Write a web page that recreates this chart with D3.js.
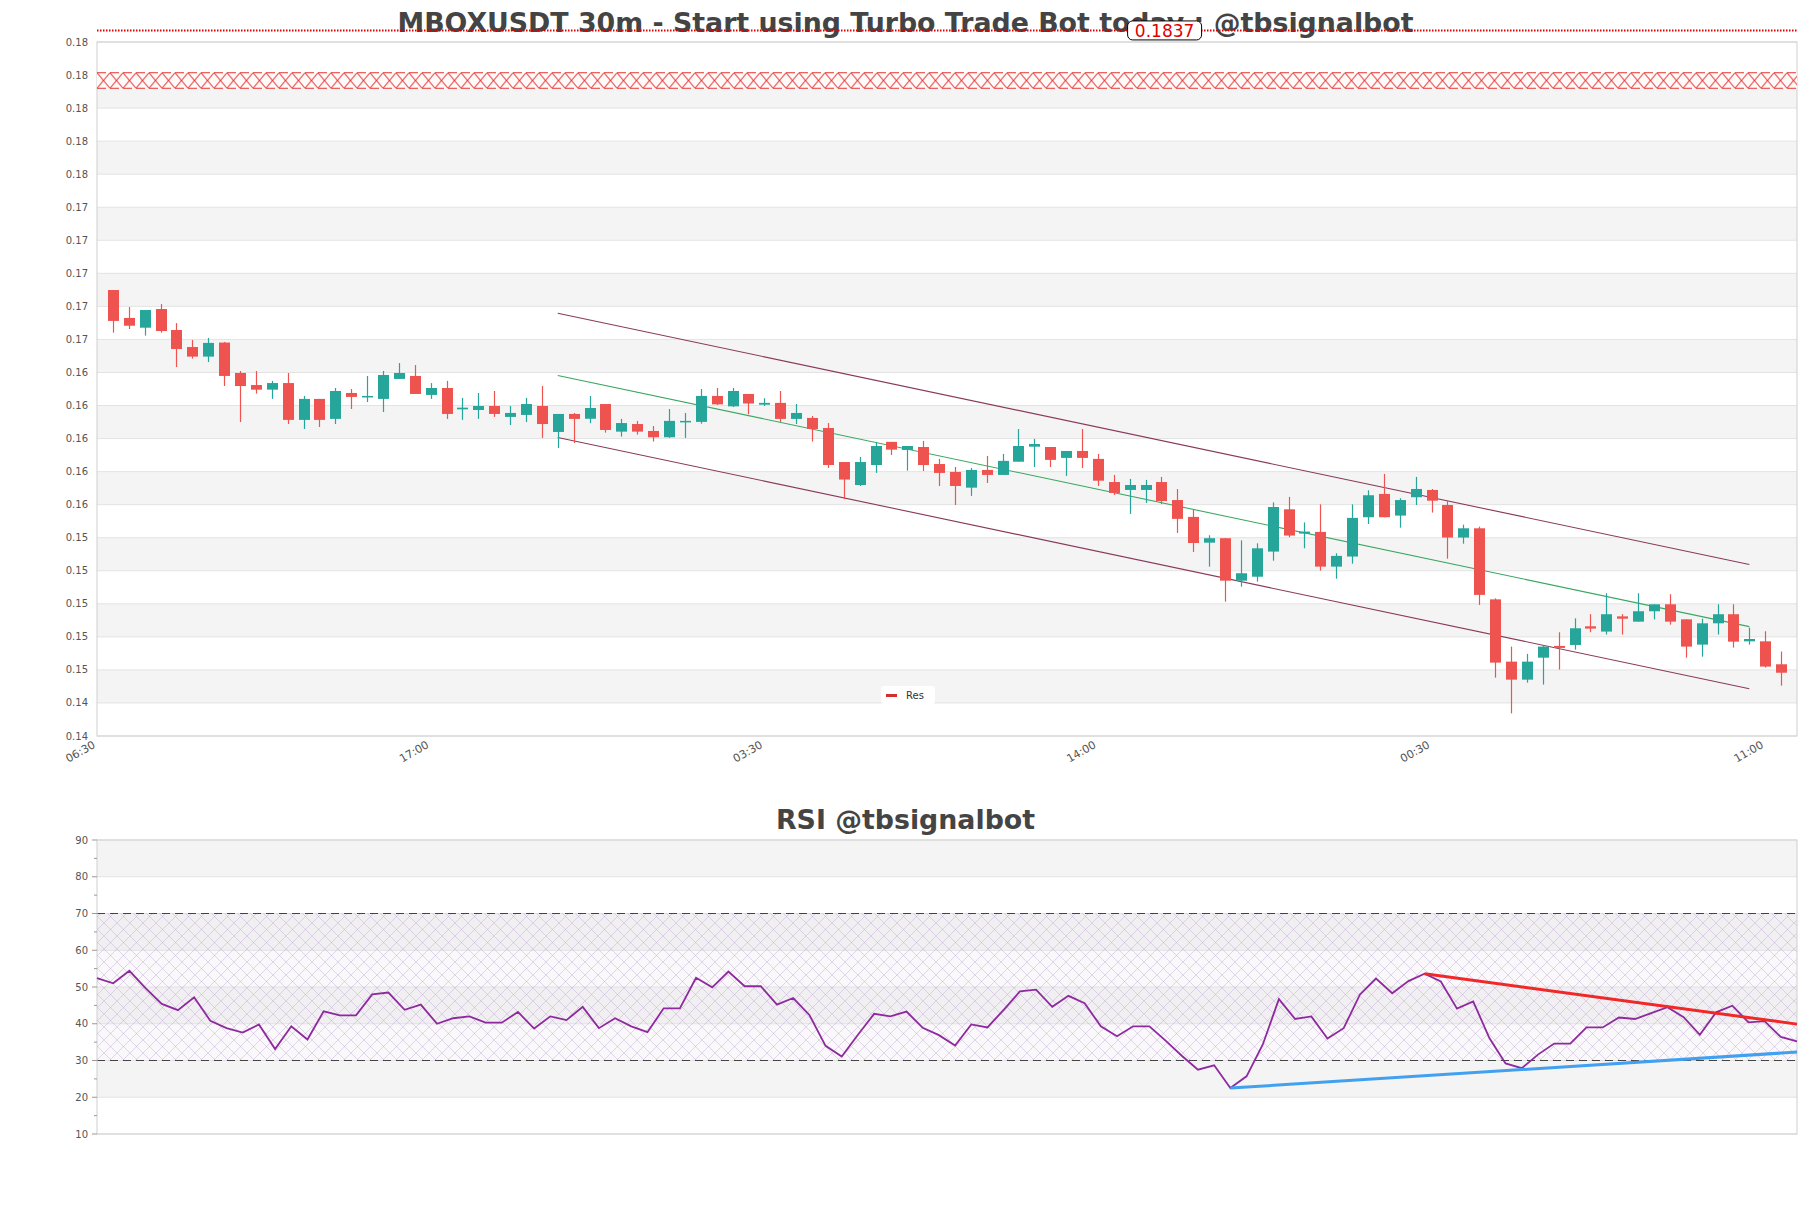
<!DOCTYPE html>
<html><head><meta charset="utf-8">
<script src="https://cdn.jsdelivr.net/npm/d3@7"></script>
<style>html,body{margin:0;padding:0;background:#fff;}svg{display:block;font-family:"DejaVu Sans",sans-serif;}</style>
</head><body><svg id="c" width="1811" height="1208"></svg>
<script>
// ---------------- DATA ----------------
const opens  = [0.16799,0.16630,0.16571,0.16684,0.16557,0.16454,0.16396,0.16481,0.16297,0.16224,0.16196,0.16236,0.16013,0.16140,0.16019,0.16176,0.16152,0.16140,0.16261,0.16279,0.16164,0.16206,0.16077,0.16073,0.16097,0.16031,0.16043,0.16097,0.15940,0.16049,0.16020,0.16109,0.15942,0.15988,0.15946,0.15908,0.16001,0.16001,0.16158,0.16095,0.16170,0.16105,0.16116,0.16019,0.16025,0.15964,0.15758,0.15619,0.15740,0.15880,0.15831,0.15849,0.15746,0.15698,0.15603,0.15710,0.15680,0.15760,0.15851,0.15849,0.15783,0.15825,0.15777,0.15637,0.15589,0.15589,0.15637,0.15528,0.15426,0.15270,0.15297,0.15040,0.15064,0.15216,0.15472,0.15325,0.15335,0.15125,0.15186,0.15424,0.15565,0.15434,0.15545,0.15589,0.15498,0.15301,0.15357,0.14927,0.14550,0.14441,0.14574,0.14645,0.14651,0.14764,0.14732,0.14824,0.14792,0.14855,0.14897,0.14806,0.14653,0.14782,0.14837,0.14673,0.14673,0.14534];
const highs  = [0.16799,0.16696,0.16678,0.16714,0.16599,0.16497,0.16509,0.16485,0.16309,0.16309,0.16249,0.16297,0.16158,0.16140,0.16206,0.16200,0.16279,0.16309,0.16357,0.16345,0.16236,0.16249,0.16146,0.16176,0.16188,0.16097,0.16146,0.16218,0.16049,0.16055,0.16158,0.16109,0.16019,0.16007,0.15976,0.16079,0.16055,0.16200,0.16206,0.16206,0.16170,0.16144,0.16188,0.16109,0.16037,0.15994,0.15758,0.15789,0.15880,0.15880,0.15855,0.15886,0.15777,0.15728,0.15722,0.15795,0.15807,0.15958,0.15898,0.15849,0.15825,0.15958,0.15807,0.15680,0.15656,0.15650,0.15668,0.15595,0.15468,0.15315,0.15297,0.15284,0.15266,0.15514,0.15547,0.15393,0.15502,0.15206,0.15502,0.15587,0.15686,0.15539,0.15668,0.15595,0.15522,0.15379,0.15367,0.14933,0.14641,0.14597,0.14647,0.14728,0.14812,0.14837,0.14964,0.14837,0.14964,0.14897,0.14958,0.14806,0.14810,0.14897,0.14897,0.14756,0.14734,0.14611];
const lows   = [0.16541,0.16563,0.16523,0.16541,0.16333,0.16384,0.16363,0.16218,0.16000,0.16172,0.16140,0.15988,0.15958,0.15970,0.15988,0.16079,0.16121,0.16061,0.16261,0.16170,0.16140,0.16019,0.16013,0.16019,0.16031,0.15982,0.16000,0.15904,0.15843,0.15873,0.15993,0.15936,0.15912,0.15924,0.15882,0.15904,0.15904,0.15990,0.16103,0.16091,0.16047,0.16097,0.16001,0.15988,0.15882,0.15722,0.15534,0.15613,0.15692,0.15801,0.15706,0.15704,0.15613,0.15498,0.15553,0.15631,0.15680,0.15760,0.15728,0.15728,0.15674,0.15722,0.15613,0.15559,0.15444,0.15510,0.15504,0.15329,0.15214,0.15125,0.14913,0.15004,0.15034,0.15161,0.15303,0.15236,0.15101,0.15052,0.15143,0.15383,0.15424,0.15361,0.15498,0.15452,0.15173,0.15264,0.14893,0.14453,0.14237,0.14423,0.14411,0.14502,0.14623,0.14728,0.14714,0.14714,0.14792,0.14806,0.14774,0.14574,0.14580,0.14714,0.14635,0.14653,0.14514,0.14405];
const closes = [0.16612,0.16583,0.16678,0.16551,0.16442,0.16396,0.16479,0.16279,0.16218,0.16196,0.16236,0.16013,0.16140,0.16013,0.16188,0.16152,0.16158,0.16285,0.16297,0.16170,0.16206,0.16049,0.16087,0.16097,0.16049,0.16055,0.16109,0.15988,0.16049,0.16019,0.16085,0.15952,0.15994,0.15942,0.15908,0.16007,0.16007,0.16158,0.16107,0.16188,0.16112,0.16116,0.16019,0.16055,0.15958,0.15740,0.15652,0.15758,0.15855,0.15833,0.15855,0.15740,0.15692,0.15613,0.15710,0.15680,0.15765,0.15855,0.15867,0.15771,0.15825,0.15783,0.15645,0.15571,0.15619,0.15619,0.15522,0.15414,0.15268,0.15297,0.15040,0.15085,0.15236,0.15486,0.15313,0.15337,0.15125,0.15190,0.15420,0.15557,0.15424,0.15528,0.15595,0.15524,0.15301,0.15357,0.14954,0.14544,0.14441,0.14550,0.14641,0.14633,0.14752,0.14750,0.14837,0.14810,0.14855,0.14897,0.14792,0.14641,0.14782,0.14837,0.14671,0.14687,0.14520,0.14483];
const rsiValues = [52.4,51.0,54.4,49.7,45.4,43.7,47.2,40.8,38.8,37.6,
  39.8,33.1,39.3,35.7,43.4,42.3,42.3,48.0,48.5,43.8,
  45.2,40.0,41.5,42.0,40.3,40.3,43.2,38.7,42.0,41.0,
  44.6,38.8,41.5,39.3,37.7,44.2,44.2,52.5,49.9,54.2,
  50.2,50.2,45.2,47.0,42.4,34.0,31.1,37.0,42.7,42.0,
  43.3,38.9,36.9,34.1,39.8,39.0,43.8,48.8,49.3,44.6,
  47.6,45.6,39.3,36.6,39.3,39.3,35.4,31.3,27.5,28.7,
  22.5,25.7,34.3,46.7,41.3,42.0,36.0,38.8,47.9,52.3,
  48.3,51.6,53.6,51.5,44.1,46.1,36.1,29.2,27.9,31.6,
  34.6,34.6,39.0,39.0,41.7,41.3,42.9,44.5,41.8,37.0,
  43.1,44.9,40.4,40.7,36.4,35.2];

const xTickSlots  = [0,21,42,63,84,105];
const xTickLabels = ["06:30","17:00","03:30","14:00","00:30","11:00"];
const yTickValues = [0.183,0.181,0.179,0.177,0.175,0.173,0.171,0.169,0.167,0.165,0.163,0.161,0.159,0.157,0.155,0.153,0.151,0.149,0.147,0.145,0.143,0.141];
const yTickLabels = ["0.18","0.18","0.18","0.18","0.18","0.17","0.17","0.17","0.17","0.17","0.16","0.16","0.16","0.16","0.16","0.15","0.15","0.15","0.15","0.15","0.14","0.14"];
const rsiTicks = [90,80,70,60,50,40,30,20,10];
const rsiMinorTicks = [85,75,65,55,45,35,25,15];

const markPrice = 0.1837;
const resZone = [0.18020, 0.18114];
const channelSlots = [29, 104];
const channelMid = [0.16282, 0.14762];
const channelHalf = 0.00376;
const rsiResLine = {from:82, to:105, v0:53.6, v1:39.9};
const rsiSupLine = {from:70, to:105, v0:22.5, v1:32.3};

// ---------------- LAYOUT ----------------
const M = {l:97, r:1797, t:42, b:736};
const R = {l:97, r:1797, t:840, b:1134};
const svg = d3.select('#c');
const up = '#26a69a', dn = '#ef5350', gridC = '#e3e3e3', bandC = '#f4f4f4', axisC = '#cfcfcf', lblC = '#555';

const y = d3.scaleLinear().domain([0.141, 0.183]).range([M.b, M.t]);
const x = d3.scaleLinear().domain([0, 107]).range([M.l, M.r]);   // slot positions, candle i at slot i+1
const yr = d3.scaleLinear().domain([10, 90]).range([R.b, R.t]);
const xr = d3.scaleLinear().domain([0, rsiValues.length - 1]).range([R.l, R.r]);

// patterns
const defs = svg.append('defs');
const resTop = y(resZone[1]), resBot = y(resZone[0]);
const hp = defs.append('pattern').attr('id','resHatch').attr('patternUnits','userSpaceOnUse')
  .attr('x', M.l).attr('y', resTop).attr('width', 13).attr('height', resBot - resTop);
hp.append('path').attr('d', `M0,0L13,${resBot-resTop}M13,0L0,${resBot-resTop}`)
  .attr('stroke','#e53935').attr('stroke-width',1).attr('fill','none');
const rp = defs.append('pattern').attr('id','rsiHatch').attr('patternUnits','userSpaceOnUse')
  .attr('width', 13).attr('height', 13);
rp.append('path').attr('d','M0,0L13,13M13,0L0,13M-1,12L1,14M12,-1L14,1')
  .attr('stroke','rgba(175,150,200,0.45)').attr('stroke-width',0.8).attr('fill','none');

// ---------------- MAIN CHART ----------------
const g = svg.append('g');
for (let k = 0; k < yTickValues.length - 1; k++) {
  if (k % 2 === 1) g.append('rect').attr('x', M.l).attr('width', M.r - M.l)
    .attr('y', y(yTickValues[k])).attr('height', y(yTickValues[k+1]) - y(yTickValues[k])).attr('fill', bandC);
}
g.selectAll('.gl').data(yTickValues).join('line').attr('x1', M.l).attr('x2', M.r)
  .attr('y1', d => y(d)).attr('y2', d => y(d)).attr('stroke', gridC).attr('stroke-width', 1);
g.append('rect').attr('x', M.l).attr('y', M.t).attr('width', M.r - M.l).attr('height', M.b - M.t)
  .attr('fill','none').attr('stroke', axisC);

// Res zone
g.append('rect').attr('x', M.l).attr('width', M.r - M.l).attr('y', resTop).attr('height', resBot - resTop).attr('fill','#fffafa');
g.append('rect').attr('x', M.l).attr('width', M.r - M.l).attr('y', resTop).attr('height', resBot - resTop).attr('fill','url(#resHatch)');
[resTop, resBot].forEach(v => g.append('line').attr('x1', M.l).attr('x2', M.r).attr('y1', v).attr('y2', v)
  .attr('stroke','#e53935').attr('stroke-width',1).attr('stroke-dasharray','9,4'));

// regression channel
const chan = [
  {d:[channelMid[0]+channelHalf, channelMid[1]+channelHalf], c:'#8a3a5c'},
  {d:[channelMid[0], channelMid[1]], c:'#3aa860'},
  {d:[channelMid[0]-channelHalf, channelMid[1]-channelHalf], c:'#8a3a5c'}];
chan.forEach(o => g.append('line').attr('x1', x(channelSlots[0])).attr('x2', x(channelSlots[1]))
  .attr('y1', y(o.d[0])).attr('y2', y(o.d[1])).attr('stroke', o.c).attr('stroke-width', 1.1));

// candles
const candles = opens.map((o, i) => ({slot: i + 1, o, h: highs[i], l: lows[i], c: closes[i]}));
const bw = 11;
g.selectAll('.wick').data(candles).join('line')
  .attr('x1', d => Math.round(x(d.slot)) + 0.5).attr('x2', d => Math.round(x(d.slot)) + 0.5)
  .attr('y1', d => y(d.h)).attr('y2', d => y(d.l))
  .attr('stroke', d => d.c >= d.o ? up : dn).attr('stroke-width', 1.2);
g.selectAll('.body').data(candles).join('rect')
  .attr('x', d => Math.round(x(d.slot)) + 0.5 - bw / 2).attr('width', bw)
  .attr('y', d => y(Math.max(d.o, d.c)))
  .attr('height', d => Math.max(1.5, Math.abs(y(d.o) - y(d.c))))
  .attr('fill', d => d.c >= d.o ? up : dn);

// y labels
g.selectAll('.yl').data(yTickValues).join('text').attr('x', 88).attr('y', d => y(d)).attr('dy','0.35em')
  .attr('text-anchor','end').attr('font-size', 10).attr('fill', lblC).text((d, i) => yTickLabels[i]);
// x labels
g.selectAll('.xl').data(xTickSlots).join('text')
  .attr('transform', d => `translate(${x(d) - 1},${M.b + 11}) rotate(-30)`)
  .attr('text-anchor','end').attr('font-size', 11).attr('fill', lblC).text((d, i) => xTickLabels[i]);

// legend
const lg = g.append('g').attr('transform', 'translate(881,686)');
lg.append('rect').attr('width', 54).attr('height', 18).attr('rx', 3).attr('fill', '#fff');
lg.append('line').attr('x1', 5).attr('x2', 16).attr('y1', 9.5).attr('y2', 9.5).attr('stroke', '#d32f2f').attr('stroke-width', 3);
lg.append('text').attr('x', 25).attr('y', 9).attr('dy','0.35em').attr('font-size', 10).attr('fill','#333').text('Res');

// title
svg.append('text').attr('x', 905.5).attr('y', 32).attr('text-anchor','middle').attr('font-size', 26.8)
  .attr('font-weight','bold').attr('fill','#444').text('MBOXUSDT 30m - Start using Turbo Trade Bot today : @tbsignalbot');

// mark line (price marker)
const my = y(markPrice);
svg.append('line').attr('x1', M.l).attr('x2', M.r).attr('y1', my).attr('y2', my)
  .attr('stroke','#dd0000').attr('stroke-width', 2).attr('stroke-dasharray','1.5,1.5');
const lx = M.l + (M.r - M.l) * 0.628;
svg.append('rect').attr('x', lx - 37).attr('y', my - 9.5).attr('width', 74).attr('height', 19).attr('rx', 5)
  .attr('fill','#fff').attr('stroke','#000').attr('stroke-width', 1);
svg.append('text').attr('x', lx).attr('y', my).attr('dy','0.36em').attr('text-anchor','middle')
  .attr('font-size', 17).attr('fill','#e00000').text(markPrice.toFixed(4));

// ---------------- RSI CHART ----------------
const r = svg.append('g');
for (let k = 0; k < rsiTicks.length - 1; k++) {
  if (k % 2 === 0) r.append('rect').attr('x', R.l).attr('width', R.r - R.l)
    .attr('y', yr(rsiTicks[k])).attr('height', yr(rsiTicks[k+1]) - yr(rsiTicks[k])).attr('fill', bandC);
}
r.selectAll('.rg').data(rsiTicks).join('line').attr('x1', R.l).attr('x2', R.r)
  .attr('y1', d => yr(d)).attr('y2', d => yr(d)).attr('stroke', gridC);
r.append('rect').attr('x', R.l).attr('width', R.r - R.l).attr('y', yr(70)).attr('height', yr(30) - yr(70))
  .attr('fill','rgba(225,215,235,0.18)');
r.append('rect').attr('x', R.l).attr('width', R.r - R.l).attr('y', yr(70)).attr('height', yr(30) - yr(70))
  .attr('fill','url(#rsiHatch)');
[70, 30].forEach(v => r.append('line').attr('x1', R.l).attr('x2', R.r).attr('y1', yr(v)).attr('y2', yr(v))
  .attr('stroke','#444').attr('stroke-width', 1.2).attr('stroke-dasharray','8,5'));
r.append('rect').attr('x', R.l).attr('y', R.t).attr('width', R.r - R.l).attr('height', R.b - R.t)
  .attr('fill','none').attr('stroke', axisC);

r.append('path').datum(rsiValues)
  .attr('d', d3.line().x((d, i) => xr(i)).y(d => yr(d)))
  .attr('fill','none').attr('stroke','#8e2a9e').attr('stroke-width', 1.8);

r.append('line').attr('x1', xr(rsiResLine.from)).attr('x2', xr(rsiResLine.to))
  .attr('y1', yr(rsiResLine.v0)).attr('y2', yr(rsiResLine.v1)).attr('stroke','#f02828').attr('stroke-width', 3);
r.append('line').attr('x1', xr(rsiSupLine.from)).attr('x2', xr(rsiSupLine.to))
  .attr('y1', yr(rsiSupLine.v0)).attr('y2', yr(rsiSupLine.v1)).attr('stroke','#42a0f0').attr('stroke-width', 3);

r.selectAll('.rt').data(rsiTicks).join('line').attr('x1', R.l - 5).attr('x2', R.l)
  .attr('y1', d => yr(d)).attr('y2', d => yr(d)).attr('stroke', '#999');
r.selectAll('.rmt').data(rsiMinorTicks).join('line').attr('x1', R.l - 3).attr('x2', R.l)
  .attr('y1', d => yr(d)).attr('y2', d => yr(d)).attr('stroke', '#999');
r.selectAll('.rl').data(rsiTicks).join('text').attr('x', 88).attr('y', d => yr(d)).attr('dy','0.35em')
  .attr('text-anchor','end').attr('font-size', 10).attr('fill', lblC).text(d => d);

svg.append('text').attr('x', 905.5).attr('y', 829).attr('text-anchor','middle').attr('font-size', 26.8)
  .attr('font-weight','bold').attr('fill','#444').text('RSI @tbsignalbot');
</script></body></html>
